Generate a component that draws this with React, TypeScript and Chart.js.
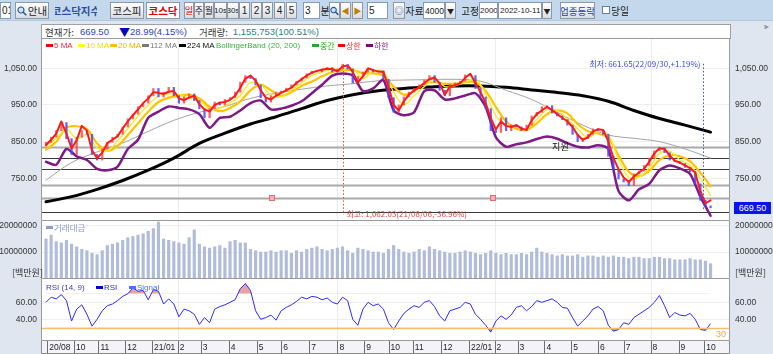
import React, { useEffect, useRef } from "react";
import { Chart, registerables } from "chart.js";

Chart.register(...registerables);

// ================= DATA =================
// x axis = trading-day index (0 = 2020-08-31)
const monthTickDays = [1, 22, 41, 62, 83, 103, 121, 143, 165, 184, 206, 228, 249, 268, 287, 309, 331, 351, 369, 390, 411, 432, 452, 473, 495, 515];
const monthTickLabels = ["20/08", "10", "11", "12", "21/01", "2", "3", "4", "5", "6", "7", "8", "9", "10", "11", "12", "22/01", "2", "3", "4", "5", "6", "7", "8", "9", "10"];
const halfYearGridDays = [103, 228, 351, 473];

const priceTicks = [750, 850, 950, 1050];
const volumeTicks = [10000000, 20000000];
const rsiTicks = [40, 60];

// sampled every 4 trading days
const closes = [
  848, 862, 880, 902, 858, 815, 862, 880, 870, 815,
  800, 830, 848, 862, 870, 890, 912, 925, 945, 955,
  975, 995, 972, 985, 998, 975, 955, 972, 980, 962,
  940, 915, 940, 958, 950, 965, 970, 985, 1012, 1030,
  1022, 1005, 970, 958, 975, 985, 988, 996, 1005, 1015,
  1024, 1035, 1042, 1040, 1048, 1052, 1040, 1048, 1060, 1048,
  1010, 1028, 1040, 1047, 1040, 1043, 1020, 970, 930, 950,
  972, 985, 995, 1005, 1018, 1030, 1012, 990, 975, 1006,
  1010, 1015, 1032, 1030, 995, 972, 940, 880, 875, 915,
  880, 896, 890, 880, 895, 920, 930, 945, 948, 928,
  920, 910, 895, 870, 850, 858, 870, 885, 880, 870,
  810, 775, 748, 740, 730, 762, 770, 785, 805, 825,
  833, 820, 800, 795, 790, 780, 768, 735, 690, 675,
  669.5,
];
const firstOpen = 838;

const ma5 = [
  841, 855, 872, 905, 872, 832, 854, 893, 880, 826,
  805, 820, 846, 855, 865, 886, 905, 922, 938, 955,
  968, 985, 983, 980, 986, 988, 968, 963, 970, 975,
  952, 938, 932, 950, 956, 958, 964, 975, 997, 1022,
  1030, 1017, 990, 970, 965, 975, 983, 990, 997, 1010,
  1020, 1030, 1038, 1043, 1046, 1049, 1048, 1042, 1055, 1058,
  1040, 1012, 1028, 1050, 1045, 1041, 1040, 1000, 950, 935,
  960, 978, 990, 998, 1010, 1020, 1025, 1009, 978, 1000,
  1004, 1009, 1024, 1035, 1010, 985, 955, 915, 883, 905,
  893, 890, 895, 886, 882, 908, 925, 935, 945, 936,
  925, 915, 905, 890, 868, 855, 862, 878, 884, 882,
  850, 805, 775, 752, 740, 755, 766, 776, 795, 818,
  832, 830, 812, 798, 793, 785, 778, 765, 715, 682,
  690,
];

// trading value (거래대금), in millions of 백만원
const tradingValueM = [
  15, 16.5, 14, 13.5, 14.5, 13, 12, 11, 10.5, 9.5,
  9, 10.5, 12.5, 13, 13.5, 14.5, 15.5, 16, 16.5, 17,
  18, 19, 21.5, 15, 14.5, 14, 13.5, 13, 15.5, 18.5,
  13, 12, 11.5, 12, 12.5, 11.5, 14, 14.5, 13.5, 13.5,
  11, 10.5, 10, 10, 10.5, 10, 10.5, 10.5, 9.5, 10.5,
  10, 11, 11.5, 12, 11, 10.5, 11, 11.5, 12, 10.5,
  9.5, 11.5, 11, 10.5, 10, 10, 9.5, 11, 12.5, 11,
  10, 9.5, 10, 11, 10.5, 12, 11, 10.5, 10, 9.5,
  9.5, 10, 10.5, 10, 9.5, 9, 9.5, 10.5, 9.5, 9,
  9.5, 9, 9, 9.5, 9, 10, 11.5, 10, 9.5, 9,
  8.5, 9, 8.5, 8.5, 9, 8, 8.5, 8.5, 8, 8.5,
  8, 8.5, 8, 8, 7.5, 8, 8, 7.5, 7.5, 8,
  8, 7.5, 7.5, 7, 7, 7, 7.5, 7, 7, 6.5,
  5.5,
];

const rsi = [
  60, 66, 64, 69, 62, 38, 52, 57, 46, 32,
  40, 50, 56, 58, 62, 67, 70, 77, 73, 74,
  63, 75, 73, 58, 64, 58, 43, 52, 50, 46,
  34, 42, 36, 52, 55, 57, 60, 63, 76, 82,
  74, 50, 40, 42, 45, 39, 50, 54, 57, 61,
  66, 64, 67, 66, 63, 65, 60, 58, 66, 62,
  40, 33, 52, 60, 56, 58, 52, 36, 28, 38,
  47, 52, 56, 54, 60, 62, 55, 44, 38, 50,
  52, 54, 60, 58, 46, 40, 33, 25, 38, 44,
  40, 45, 54, 56, 50, 55, 62, 60, 62, 64,
  60, 54, 53, 42, 32, 38, 44, 52, 55, 50,
  33, 26, 28, 36, 34, 42, 46, 50, 54, 60,
  68, 56, 42, 48, 45, 44, 47, 40, 28, 27,
  35,
];

// sampled every 8 trading days
const ma10 = [
  838, 858, 885, 858, 868, 833, 825, 852, 885, 920,
  950, 975, 980, 978, 968, 962, 938, 942, 955, 975,
  1012, 1005, 975, 972, 990, 1010, 1030, 1040, 1047, 1048,
  1050, 1022, 1042, 1042, 985, 950, 975, 1000, 1020, 1000,
  1002, 1012, 1022, 980, 920, 895, 892, 882, 910, 937,
  935, 912, 885, 860, 878, 870, 800, 752, 753, 778,
  818, 824, 800, 785, 750, 702,
];
const ma20 = [
  828, 850, 888, 892, 884, 845, 825, 838, 868, 900,
  932, 958, 970, 975, 978, 968, 945, 933, 942, 960,
  990, 1005, 990, 975, 985, 1002, 1014, 1028, 1040, 1044,
  1045, 1037, 1036, 1030, 1000, 978, 988, 1008, 1012, 1008,
  1008, 1012, 1012, 988, 945, 905, 885, 882, 900, 925,
  935, 927, 898, 878, 872, 860, 812, 768, 756, 770,
  800, 813, 810, 796, 765, 728,
];
const lowerBand = [
  795, 787, 830, 810, 800, 776, 772, 782, 830, 855,
  915, 932, 946, 942, 938, 925, 888, 915, 918, 935,
  955, 962, 938, 940, 948, 960, 982, 1005, 1030, 1036,
  1030, 988, 995, 1018, 935, 922, 930, 988, 990, 965,
  968, 976, 982, 945, 862, 836, 843, 848, 857, 864,
  858, 846, 836, 834, 840, 830, 715, 690, 720, 735,
  772, 785, 777, 762, 700, 648,
];

// sampled every 20 trading days
const ma112 = [745, 793, 822, 846, 878, 908, 930, 946, 968, 982, 993, 1002, 1008, 1016, 1018, 1019, 1020, 1015, 990, 965, 930, 895, 868, 859, 850, 830, 805];
const ma224 = [686, 700, 720, 744, 772, 805, 845, 873, 898, 918, 940, 962, 978, 989, 995, 999, 1002, 1002, 998, 991, 984, 975, 960, 935, 913, 895, 876];

const supportLevels = [835, 805, 775, 732, 696, 658];
const supportMajor = [true, false, false, true, true, false];
const boxMarkerDays = [177, 350];
const boxMarkerValue = 696;
const supportLabelDay = 396;
const supportLabelValue = 835;

const highDay = 232;
const highValue = 1062.03;
const highLabel = "최고: 1,062.03(21/08/06,-36.96%)";
const lowDay = 514;
const lowValue = 661.65;
const lowLabel = "최저: 661.65(22/09/30,+1.19%)";
const lastPriceLabel = "669.50";

// ================= HELPERS =================
const DAY_MIN = -3.13;
const DAY_MAX = 535.2;
const daysEvery = (step: number, n: number) => Array.from({ length: n }, (_, i) => i * step);
const d4 = daysEvery(4, closes.length);
const d8 = daysEvery(8, ma10.length);
const d20 = daysEvery(20, ma112.length);
const pts = (xs: number[], ys: number[], k = 1) => ys.map((v, i) => ({ x: xs[i], y: v * k }));

const KR = "'Noto Sans CJK KR', 'Liberation Sans', sans-serif";
const LS = "'Liberation Sans', Arial, sans-serif";

const lineDs = (label: string, xs: number[], ys: number[], color: string, width: number, order: number, tension = 0) => ({
  type: "line",
  label,
  data: pts(xs, ys),
  borderColor: color,
  borderWidth: width,
  pointRadius: 0,
  fill: false,
  order,
  tension,
  borderJoinStyle: "round",
  borderCapStyle: "round",
});

const fixedWidth = (w: number) => (s: any) => {
  s.width = w;
  s.paddingTop = 0;
  s.paddingBottom = 0;
};
const setTicks = (vals: number[]) => (s: any) => {
  s.ticks = vals.map((v) => ({ value: v }));
};

const yAxis = (position: string, min: number, max: number, vals: number[], fmt: (v: number) => string, grid: boolean) => ({
  type: "linear",
  position,
  min,
  max,
  afterFit: fixedWidth(position === "left" ? 42 : 43),
  afterBuildTicks: setTicks(vals),
  ticks: { padding: 5, color: "#333", font: { size: 8.5, family: LS }, callback: (v: any) => fmt(Number(v)) },
  grid: { display: grid, drawTicks: false, color: "#efefef", drawOnChartArea: grid },
  border: { display: false },
});

const priceFmt = (v: number) => v.toLocaleString("en-US", { minimumFractionDigits: 2, maximumFractionDigits: 2 });

const panelFrame = (top: boolean) => ({
  id: "panelFrame",
  beforeDraw(chart: any) {
    const { ctx, chartArea: a } = chart;
    ctx.save();
    ctx.fillStyle = "#ffffff";
    ctx.fillRect(a.left, a.top, a.width, a.height);
    ctx.strokeStyle = "#ececec";
    ctx.lineWidth = 1;
    const x = chart.scales.x;
    halfYearGridDays.forEach((d) => {
      const px = Math.round(x.getPixelForValue(d)) + 0.5;
      ctx.beginPath();
      ctx.moveTo(px, a.top);
      ctx.lineTo(px, a.bottom);
      ctx.stroke();
    });
    ctx.restore();
  },
  afterDraw(chart: any) {
    const { ctx, chartArea: a } = chart;
    ctx.save();
    ctx.strokeStyle = "#9a9a9a";
    ctx.lineWidth = 1;
    ctx.beginPath();
    ctx.moveTo(a.left - 0.5, a.top);
    ctx.lineTo(a.left - 0.5, a.bottom - 0.5);
    ctx.lineTo(a.right - 0.5, a.bottom - 0.5);
    ctx.lineTo(a.right - 0.5, a.top);
    if (top) {
      ctx.moveTo(a.left - 0.5, a.top + 0.5);
      ctx.lineTo(a.right - 0.5, a.top + 0.5);
    }
    ctx.stroke();
    ctx.restore();
  },
});

const mainDecor = {
  id: "mainDecor",
  beforeDatasetsDraw(chart: any) {
    const { ctx, chartArea: a, scales } = chart;
    const y = scales.y;
    ctx.save();
    supportLevels.forEach((v, i) => {
      const py = Math.round(y.getPixelForValue(v)) + 0.5;
      ctx.strokeStyle = supportMajor[i] ? "#a9a9a9" : "#3a3a3a";
      ctx.lineWidth = supportMajor[i] ? 2 : 1;
      ctx.beginPath();
      ctx.moveTo(a.left, py);
      ctx.lineTo(a.right, py);
      ctx.stroke();
    });
    ctx.restore();
  },
  afterDatasetsDraw(chart: any) {
    const { ctx, scales } = chart;
    const x = scales.x;
    const y = scales.y;
    ctx.save();
    const yHigh = y.getPixelForValue(highValue);
    const yLow = y.getPixelForValue(lowValue);
    const hx = Math.round(x.getPixelForValue(highDay)) + 0.5;
    ctx.setLineDash([1.5, 2]);
    ctx.lineWidth = 1;
    ctx.strokeStyle = "#e04848";
    ctx.beginPath();
    ctx.moveTo(hx, yHigh);
    ctx.lineTo(hx, yLow + 4);
    ctx.stroke();
    const lx = Math.round(x.getPixelForValue(lowDay)) + 0.5;
    ctx.strokeStyle = "#3a4ed0";
    ctx.beginPath();
    ctx.moveTo(lx, yHigh);
    ctx.lineTo(lx, yLow);
    ctx.stroke();
    ctx.setLineDash([]);
    ctx.font = "8px " + KR;
    ctx.textBaseline = "middle";
    ctx.fillStyle = "#e04848";
    ctx.textAlign = "left";
    ctx.fillText(highLabel, hx + 3, yLow + 3);
    ctx.fillStyle = "#3a4ed0";
    ctx.textAlign = "right";
    ctx.fillText(lowLabel, lx - 3, yHigh);
    boxMarkerDays.forEach((d) => {
      const px = Math.round(x.getPixelForValue(d));
      const py = Math.round(y.getPixelForValue(boxMarkerValue));
      ctx.fillStyle = "#f6b2b2";
      ctx.fillRect(px - 2.5, py - 2.5, 5, 5);
      ctx.strokeStyle = "#e07070";
      ctx.strokeRect(px - 2.5, py - 2.5, 5, 5);
    });
    ctx.fillStyle = "#111";
    ctx.textAlign = "left";
    ctx.font = "9px " + KR;
    ctx.fillText("지원", x.getPixelForValue(supportLabelDay), y.getPixelForValue(supportLabelValue) - 1);
    ctx.restore();
  },
};

const rsiDecor = {
  id: "rsiDecor",
  beforeDraw(chart: any) {
    const { ctx, chartArea: a } = chart;
    ctx.save();
    ctx.fillStyle = "#f4f4f8";
    ctx.fillRect(a.left, a.bottom, a.width, chart.height - a.bottom);
    ctx.restore();
  },
  afterDatasetsDraw(chart: any) {
    const { ctx, chartArea: a, scales } = chart;
    const y = scales.y;
    const x = scales.x;
    ctx.save();
    const p30 = Math.round(y.getPixelForValue(30)) + 0.5;
    ctx.strokeStyle = "#f6bd6c";
    ctx.lineWidth = 1.5;
    ctx.beginPath();
    ctx.moveTo(a.left, p30);
    ctx.lineTo(a.right, p30);
    ctx.stroke();
    ctx.fillStyle = "#f0a848";
    ctx.font = "9px " + LS;
    ctx.textAlign = "right";
    ctx.textBaseline = "top";
    ctx.fillText("30", a.right - 4, p30 + 2);
    ctx.strokeStyle = "#6e6e6e";
    ctx.lineWidth = 1;
    monthTickDays.forEach((d) => {
      const px = Math.round(x.getPixelForValue(d)) + 0.5;
      ctx.beginPath();
      ctx.moveTo(px, a.bottom);
      ctx.lineTo(px, chart.height);
      ctx.stroke();
    });
    ctx.strokeStyle = "#8a8a8a";
    ctx.beginPath();
    ctx.moveTo(a.left - 0.5, a.bottom);
    ctx.lineTo(a.left - 0.5, chart.height - 0.5);
    ctx.lineTo(a.right - 0.5, chart.height - 0.5);
    ctx.lineTo(a.right - 0.5, a.bottom);
    ctx.stroke();
    ctx.restore();
  },
};

const hiddenX = { type: "linear", min: DAY_MIN, max: DAY_MAX, display: false, offset: false };
const baseOptions = {
  responsive: false,
  animation: false,
  events: [],
  layout: { padding: 0 },
  plugins: { legend: { display: false }, tooltip: { enabled: false } },
};

// ================= UI bits =================
const Box = ({ x, y = 2, w, h = 17, children, style = {} }: any) => (
  <div
    style={{
      position: "absolute",
      left: x,
      top: y,
      width: w,
      height: h,
      boxSizing: "border-box",
      display: "flex",
      alignItems: "center",
      justifyContent: "center",
      whiteSpace: "nowrap",
      overflow: "hidden",
      fontFamily: KR,
      fontSize: 10.5,
      color: "#222",
      ...style,
    }}
  >
    {children}
  </div>
);
const btn = { background: "linear-gradient(#ffffff,#d9dde3)", border: "1px solid #8d97a5" };
const inp = { background: "#fff", border: "1px solid #7f9db9", justifyContent: "flex-start", paddingLeft: 1, fontFamily: LS, fontSize: 10 };

const Mag = () => (
  <svg width="10" height="10" viewBox="0 0 10 10">
    <circle cx="4" cy="4" r="3" fill="#cfe3f7" stroke="#2a5a9a" strokeWidth="1.2" />
    <line x1="6.2" y1="6.2" x2="9.3" y2="9.3" stroke="#2a5a9a" strokeWidth="1.6" />
  </svg>
);

const legendItems = [
  { x: 46, bar: "#ff0000", text: "5 MA", color: "#ff2a2a" },
  { x: 78, bar: "#ffff00", text: "10 MA", color: "#e6de00" },
  { x: 110, bar: "#ffc000", text: "20 MA", color: "#f2b400" },
  { x: 142, bar: "#7a7a7a", text: "112 MA", color: "#7a7a7a" },
  { x: 179, bar: "#000000", text: "224 MA", color: "#111" },
  { x: 216, bar: "", text: "BollingerBand (20, 200)", color: "#3cb043" },
  { x: 312, bar: "#22aa22", text: "중간", color: "#22aa22" },
  { x: 338, bar: "#ff0000", text: "상한", color: "#ff2a2a" },
  { x: 366, bar: "#800080", text: "하한", color: "#8a2a8a" },
];

const LegendItem = ({ x, y, bar, text, color, size = 8 }: any) => (
  <div style={{ position: "absolute", left: x, top: y, display: "flex", alignItems: "center", whiteSpace: "nowrap", fontFamily: /[가-힣]/.test(text) ? KR : LS, fontSize: size, color, lineHeight: "11px" }}>
    {bar ? <span style={{ display: "inline-block", width: 7, height: 3, background: bar, marginRight: 1 }} /> : null}
    {text}
  </div>
);

export default function App() {
  const mainRef = useRef<HTMLCanvasElement>(null);
  const volRef = useRef<HTMLCanvasElement>(null);
  const rsiRef = useRef<HTMLCanvasElement>(null);

  useEffect(() => {
    Chart.defaults.font.family = LS;
    const charts: any[] = [];

    const candleData = closes.map((c, i) => ({ x: d4[i], y: [i === 0 ? firstOpen : closes[i - 1], c] }));
    const candleColors = closes.map((c, i) => (c >= (i === 0 ? firstOpen : closes[i - 1]) ? "rgba(255,70,70,0.85)" : "rgba(70,70,255,0.85)"));

    charts.push(
      new Chart(mainRef.current as any, {
        type: "line",
        data: {
          datasets: [
            lineDs("224 MA", d20, ma224, "#000000", 3, 7, 0.35),
            lineDs("112 MA", d20, ma112, "#a4a4a4", 1, 6, 0.35),
            lineDs("하한", d8, lowerBand, "#7d1a86", 2.5, 5, 0.25),
            lineDs("20 MA", d8, ma20, "#ffc400", 2.2, 4, 0.35),
            lineDs("10 MA", d8, ma10, "#f5ee1a", 1.3, 3, 0.3),
            {
              type: "bar",
              label: "candles",
              data: candleData,
              backgroundColor: candleColors,
              borderWidth: 0,
              barThickness: 1.6,
              order: 2,
            },
            lineDs("5 MA", d4, ma5, "#ff1a1a", 2, 1, 0),
          ] as any,
        },
        options: {
          ...baseOptions,
          scales: {
            x: hiddenX,
            y: yAxis("left", 633.6, 1132.6, priceTicks, priceFmt, true),
            y2: yAxis("right", 633.6, 1132.6, priceTicks, priceFmt, false),
          },
        } as any,
        plugins: [panelFrame(true), mainDecor],
      })
    );

    charts.push(
      new Chart(volRef.current as any, {
        type: "bar",
        data: {
          datasets: [
            {
              label: "거래대금",
              data: pts(d4, tradingValueM, 1000000),
              backgroundColor: "#b0bcd9",
              borderWidth: 0,
              barThickness: 2.5,
            },
          ],
        },
        options: {
          ...baseOptions,
          scales: {
            x: hiddenX,
            y: yAxis("left", -380000, 21920000, volumeTicks, (v) => String(v), true),
            y2: yAxis("right", -380000, 21920000, volumeTicks, (v) => String(v), false),
          },
        } as any,
        plugins: [panelFrame(false)],
      })
    );

    charts.push(
      new Chart(rsiRef.current as any, {
        type: "line",
        data: {
          datasets: [
            {
              label: "RSI",
              data: pts(d4, rsi),
              borderColor: "#2b2bff",
              borderWidth: 1,
              pointRadius: 0,
              fill: { target: { value: 70 }, above: "rgba(222,140,140,0.8)", below: "rgba(0,0,0,0)" },
            },
            {
              label: "RSI<30",
              data: pts(d4, rsi),
              borderColor: "rgba(0,0,0,0)",
              borderWidth: 0,
              pointRadius: 0,
              fill: { target: { value: 30 }, above: "rgba(0,0,0,0)", below: "rgba(110,140,215,0.75)" },
            },
          ],
        },
        options: {
          ...baseOptions,
          scales: {
            x: {
              type: "linear",
              position: "bottom",
              min: DAY_MIN,
              max: DAY_MAX,
              offset: false,
              afterBuildTicks: setTicks(monthTickDays),
              afterFit: (s: any) => {
                s.height = 13;
                s.paddingLeft = 0;
                s.paddingRight = 0;
              },
              ticks: {
                autoSkip: false,
                maxRotation: 0,
                minRotation: 0,
                align: "start",
                labelOffset: 2,
                padding: 2,
                color: "#222",
                font: { size: 8.5, family: LS },
                callback: (_v: any, i: number) => monthTickLabels[i],
              },
              grid: { display: false, drawTicks: false },
              border: { display: false },
            },
            y: yAxis("left", 14.5, 87.4, rsiTicks, (v) => v.toFixed(2), true),
            y2: yAxis("right", 14.5, 87.4, rsiTicks, (v) => v.toFixed(2), false),
          },
        } as any,
        plugins: [panelFrame(false), rsiDecor],
      })
    );

    return () => charts.forEach((c) => c.destroy());
  }, []);

  return (
    <div style={{ position: "fixed", left: 0, top: 0, width: 773, height: 354, background: "#dfe6ef", overflow: "hidden" }}>
      {/* toolbar */}
      <div style={{ position: "absolute", left: 0, top: 0, width: 773, height: 21, background: "#c3d8ec", borderBottom: "1px solid #b3c7db", boxSizing: "border-box" }} />
      <Box x={0} w={11} style={inp}>01</Box>
      <Box x={15} w={34} style={btn}>
        <Mag />
        <span style={{ marginLeft: 1 }}>안내</span>
      </Box>
      <Box x={55} w={42} style={{ color: "#2f4f9f", fontWeight: 700, fontSize: 10.5 }}>코스닥지수</Box>
      <Box x={110} w={34} style={btn}>코스피</Box>
      <Box x={146} w={34} style={{ background: "#fff", border: "1px solid #8d97a5", color: "#e00000", fontWeight: 700 }}>코스닥</Box>
      <Box x={184} w={10} style={{ ...btn, color: "#e00000", fontSize: 9 }}>일</Box>
      <Box x={194} w={10} style={{ ...btn, fontSize: 9 }}>주</Box>
      <Box x={204} w={10} style={{ ...btn, fontSize: 9 }}>월</Box>
      <Box x={214} w={13} style={{ ...btn, fontSize: 8, fontFamily: LS }}>10s</Box>
      <Box x={227} w={12} style={{ ...btn, fontSize: 8, fontFamily: LS }}>30s</Box>
      <Box x={239} w={11} style={{ ...btn, fontFamily: LS, fontSize: 10 }}>1</Box>
      <Box x={251} w={11} style={{ ...btn, fontFamily: LS, fontSize: 10 }}>2</Box>
      <Box x={262} w={11} style={{ ...btn, fontFamily: LS, fontSize: 10 }}>3</Box>
      <Box x={274} w={11} style={{ ...btn, fontFamily: LS, fontSize: 10 }}>4</Box>
      <Box x={286} w={11} style={{ ...btn, fontFamily: LS, fontSize: 10 }}>5</Box>
      <Box x={303} w={17} style={inp}>3</Box>
      <Box x={321} w={8} style={{ fontSize: 10 }}>분</Box>
      <Box x={329} w={11} style={btn}><Mag /></Box>
      <Box x={340} w={11} style={{ ...btn, color: "#c08000", fontSize: 8 }}>◀</Box>
      <Box x={352} w={11} style={{ ...btn, color: "#c08000", fontSize: 8 }}>▶</Box>
      <Box x={367} w={21} style={inp}>5</Box>
      <Box x={393} w={12} style={{ ...btn, fontSize: 9, color: "#2a5a9a" }}>◎</Box>
      <Box x={406} w={17} style={{ fontSize: 10 }}>자료</Box>
      <Box x={423} w={22} style={{ ...inp, fontSize: 8.5 }}>4000</Box>
      <Box x={445} w={11} style={{ ...btn, fontSize: 7 }}>▼</Box>
      <Box x={462} w={16} style={{ fontSize: 10 }}>고정</Box>
      <Box x={479} w={19} style={{ ...inp, fontSize: 8, paddingLeft: 0 }}>2000</Box>
      <Box x={498} w={44} style={{ ...inp, fontSize: 8, paddingLeft: 1 }}>2022-10-11</Box>
      <Box x={542} w={10} style={{ ...btn, fontSize: 7 }}>▼</Box>
      <Box x={560} w={35} style={{ ...btn, color: "#1f3fa8", fontSize: 9.5 }}>업종등락</Box>
      <Box x={602} y={6} w={8} h={8} style={{ background: "#fff", border: "1px solid #6d7d90" }} />
      <Box x={612} w={16} style={{ fontSize: 10 }}>당일</Box>
      <Box x={762} y={22} w={8} h={10} style={{ fontSize: 8, color: "#5a6a8a", fontFamily: LS }}>⫸</Box>

      {/* header */}
      <div style={{ position: "absolute", left: 41, top: 24, width: 690, height: 15, background: "#fff", border: "1px solid #a0a0a0", borderBottom: "none", boxSizing: "border-box" }} />
      <div style={{ position: "absolute", left: 45, top: 25, height: 13, display: "flex", alignItems: "center", whiteSpace: "nowrap", fontFamily: KR, fontSize: 9.5 }}>
        <span style={{ color: "#333" }}>현재가:</span>
        <span style={{ color: "#3344bb", marginLeft: 6, fontFamily: LS }}>669.50</span>
        <span style={{ color: "#0000bb", marginLeft: 10, fontSize: 11 }}>▼</span>
        <span style={{ color: "#3344bb", fontFamily: LS }}>28.99(4.15%)</span>
        <span style={{ color: "#333", marginLeft: 12 }}>거래량:</span>
        <span style={{ color: "#2e7f86", marginLeft: 5, fontFamily: LS }}>1,155,753(100.51%)</span>
      </div>

      {/* canvases */}
      <canvas ref={mainRef} width={773} height={183} style={{ position: "absolute", left: 0, top: 38 }} />
      <canvas ref={volRef} width={773} height={58} style={{ position: "absolute", left: 0, top: 221 }} />
      <canvas ref={rsiRef} width={773} height={75} style={{ position: "absolute", left: 0, top: 279 }} />

      {/* legends */}
      {legendItems.map((it) => (
        <LegendItem key={it.text} x={it.x} y={40} bar={it.bar} text={it.text} color={it.color} />
      ))}
      <LegendItem x={46} y={222} bar="#8e9cc6" text="거래대금" color="#8e9cc6" size={8.5} />
      <LegendItem x={46} y={282} bar="" text="RSI (14, 9)" color="#3a3acd" />
      <LegendItem x={96} y={282} bar="#0000c8" text="RSI" color="#2a2ad0" />
      <LegendItem x={129} y={282} bar="#4a70ff" text="Signal" color="#4a70ff" />

      <div style={{ position: "absolute", left: 12, top: 266, fontFamily: KR, fontSize: 9, color: "#333" }}>[백만원]</div>
      <div style={{ position: "absolute", left: 735, top: 266, fontFamily: KR, fontSize: 9, color: "#333" }}>[백만원]</div>

      <div style={{ position: "absolute", left: 734, top: 202, width: 37, height: 12, background: "#0a14f0", color: "#fff", fontFamily: LS, fontSize: 9, display: "flex", alignItems: "center", justifyContent: "center" }}>{lastPriceLabel}</div>
    </div>
  );
}
